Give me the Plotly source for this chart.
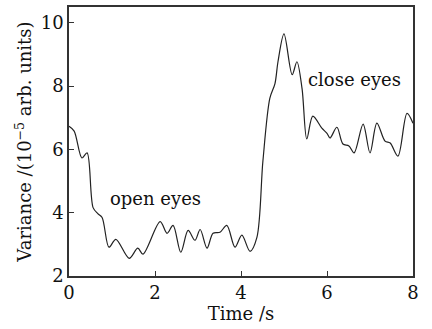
import plotly.graph_objects as go

time_s = [0.00, 0.12, 0.30, 0.42, 0.56, 0.67, 0.77, 0.93, 1.09, 1.40, 1.60, 1.72,
          2.12, 2.28, 2.42, 2.60, 2.77, 2.93, 3.05, 3.21, 3.35, 3.51, 3.67, 3.86,
          4.02, 4.21, 4.37, 4.51, 4.67, 4.79, 4.86, 5.00, 5.19, 5.30, 5.42, 5.53,
          5.67, 5.88, 6.00, 6.07, 6.23, 6.37, 6.51, 6.63, 6.84, 7.00, 7.16, 7.35,
          7.47, 7.65, 7.86, 8.00]
variance = [6.73, 6.58, 5.73, 5.89, 4.16, 3.97, 3.85, 2.91, 3.16, 2.56, 2.88, 2.69,
            3.72, 3.35, 3.60, 2.75, 3.44, 3.13, 3.47, 2.88, 3.35, 3.38, 3.60, 2.91,
            3.29, 2.78, 3.22, 5.64, 7.61, 8.08, 8.77, 9.65, 8.36, 8.77, 7.92, 6.33,
            7.05, 6.67, 6.51, 6.36, 6.70, 6.17, 6.11, 5.89, 6.80, 5.89, 6.83, 6.26,
            6.20, 5.79, 7.14, 6.83]

x_ticks = [0, 2, 4, 6, 8]
y_ticks = [2, 4, 6, 8, 10]

FONT = "DejaVu Serif"

fig = go.Figure()
fig.add_trace(go.Scatter(x=time_s, y=variance, mode="lines",
                         line=dict(color="#222222", width=1.2, shape="spline", smoothing=0.9),
                         showlegend=False, hoverinfo="skip"))

fig.add_annotation(x=2.02, y=4.45, text="open eyes", showarrow=False,
                   font=dict(family=FONT, size=18, color="#111111"))
fig.add_annotation(x=6.65, y=8.2, text="close eyes", showarrow=False,
                   font=dict(family=FONT, size=18, color="#111111"))

axis_common = dict(showgrid=False, zeroline=False, showline=True, mirror=True,
                   linecolor="#333333", linewidth=1.5, ticks="inside", ticklen=5,
                   tickwidth=1.2, tickcolor="#333333",
                   tickfont=dict(family=FONT, size=18, color="#111111"))

fig.update_layout(
    width=432, height=329,
    margin=dict(l=69, r=19, t=5, b=53),
    paper_bgcolor="white", plot_bgcolor="white",
    xaxis=dict(range=[0, 8], tickvals=x_ticks, ticktext=[str(v) for v in x_ticks],
               title=dict(text="Time /s", font=dict(family=FONT, size=18, color="#111111"),
                          standoff=0),
               **axis_common),
    yaxis=dict(range=[2, 10.5], tickvals=y_ticks, ticktext=[str(v) for v in y_ticks],
               title=dict(text="Variance /(10<sup>−5</sup> arb. units)",
                          font=dict(family=FONT, size=18, color="#111111"), standoff=4),
               **axis_common),
)

fig.write_html("out.html")
